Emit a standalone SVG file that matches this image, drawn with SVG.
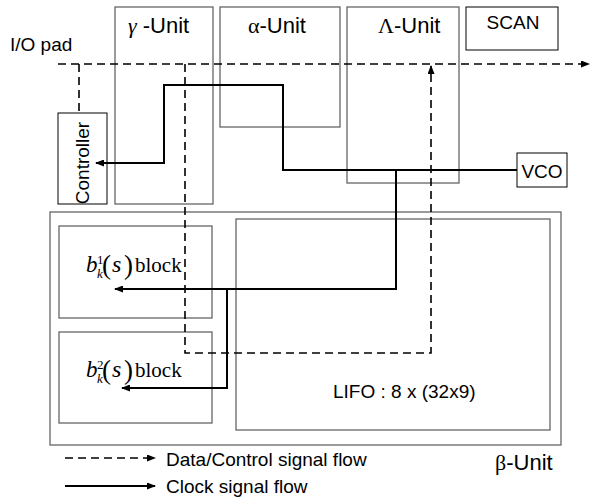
<svg xmlns="http://www.w3.org/2000/svg" width="591" height="497" viewBox="0 0 591 497">
<style>
.box{fill:none;stroke:#666;stroke-width:1.3}
.bbox{fill:none;stroke:#000;stroke-width:1}
.t{font-family:"Liberation Sans",Arial,sans-serif;font-size:19px;fill:#000}
.u{font-size:22px}
.g{font-family:"Liberation Serif","Times New Roman",serif}
.m{font-family:"Liberation Serif","Times New Roman",serif;font-size:21px;fill:#000}
.dash{fill:none;stroke:#000;stroke-width:1.6;stroke-dasharray:8,5}
.clk{fill:none;stroke:#000;stroke-width:2}
</style>
<defs>
<marker id="ah" viewBox="0 0 9 7" refX="8" refY="3.5" markerWidth="9" markerHeight="7" markerUnits="userSpaceOnUse" orient="auto">
<path d="M0,0 L9,3.5 L0,7 z" fill="#000"/>
</marker>
</defs>
<rect width="591" height="497" fill="#fff"/>
<text class="t" x="10" y="51">I/O pad</text>
<g id="gamma-unit"><rect class="box" x="115" y="7" width="98" height="197"/><text class="t u" x="128" y="33"><tspan class="g" font-style="italic">γ</tspan> -Unit</text></g>
<g id="alpha-unit"><rect class="box" x="220" y="7" width="120" height="120"/><text class="t u" x="248" y="33"><tspan class="g">α</tspan>-Unit</text></g>
<g id="lambda-unit"><rect class="box" x="347" y="7" width="112" height="176"/><text class="t u" x="378" y="33"><tspan class="g">Λ</tspan>-Unit</text></g>
<g id="scan"><rect class="bbox" x="466" y="7" width="92" height="43"/><text class="t" x="513" y="29" text-anchor="middle">SCAN</text></g>
<g id="vco"><rect class="bbox" x="517" y="153" width="50" height="34"/><text class="t" font-size="20" x="542" y="178" text-anchor="middle">VCO</text></g>
<g id="controller"><rect class="bbox" x="58" y="113" width="49" height="91"/><text class="t" font-size="18" transform="translate(89,163) rotate(-90)" text-anchor="middle">Controller</text></g>
<g id="beta-unit"><rect class="box" x="50" y="212" width="511" height="233"/><text class="t u" x="495" y="470"><tspan class="g">β</tspan>-Unit</text></g>
<g id="b1-block"><rect class="box" x="59" y="226" width="153" height="92"/>
<text class="m" y="272"><tspan x="86" font-style="italic" font-size="23">b</tspan><tspan x="97" y="264" font-size="13">1</tspan><tspan x="97" y="278" font-size="13" font-style="italic">k</tspan><tspan x="102" y="274" font-size="27">(</tspan><tspan x="112" y="272" font-style="italic" font-size="24">s</tspan><tspan x="124" y="274" font-size="27">)</tspan><tspan x="135" y="272">block</tspan></text></g>
<g id="b2-block"><rect class="box" x="59" y="332" width="153" height="91"/>
<text class="m" y="377"><tspan x="86" font-style="italic" font-size="23">b</tspan><tspan x="97" y="369" font-size="13">2</tspan><tspan x="97" y="383" font-size="13" font-style="italic">k</tspan><tspan x="102" y="379" font-size="27">(</tspan><tspan x="112" y="377" font-style="italic" font-size="24">s</tspan><tspan x="124" y="379" font-size="27">)</tspan><tspan x="135" y="377">block</tspan></text></g>
<g id="lifo"><rect class="box" x="236" y="219" width="314" height="211"/><text class="t" x="333" y="398">LIFO : 8 x (32x9)</text></g>
<g id="connectors">
<path class="dash" d="M58,64 H589" marker-end="url(#ah)"/>
<path class="dash" d="M79,64 V113"/>
<path class="dash" d="M185,64 V353 H431 V66" marker-end="url(#ah)"/>
<path class="clk" stroke-width="1.6" d="M517,170 H283 V85 H164 V163 H96" marker-end="url(#ah)"/>
<path class="clk" d="M396,170 V289 H115" marker-end="url(#ah)"/>
<path class="clk" d="M227,289 V388 H122" marker-end="url(#ah)"/>
</g>
<g id="legend">
<path class="dash" d="M65,458 H155" marker-end="url(#ah)"/>
<text class="t" x="166" y="466">Data/Control signal flow</text>
<path class="clk" stroke-width="1.6" d="M65,486 H155" marker-end="url(#ah)"/>
<text class="t" x="166" y="493">Clock signal flow</text>
</g>
</svg>
